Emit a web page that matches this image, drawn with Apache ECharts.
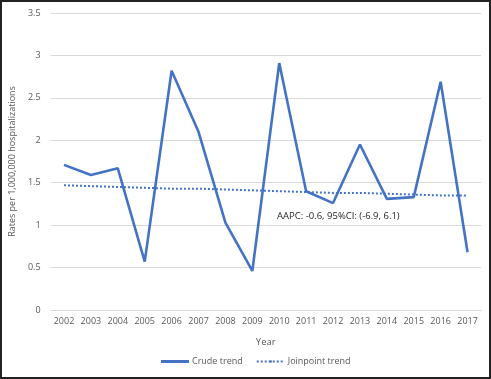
<!DOCTYPE html>
<html>
<head>
<meta charset="utf-8">
<script src="https://cdn.jsdelivr.net/npm/echarts@6/dist/echarts.min.js"></script>
<style>
  html, body { margin: 0; padding: 0; background: #fff; }
  #frame {
    width: 491px; height: 379px; box-sizing: border-box;
    border: 2px solid #222; position: relative; overflow: hidden;
  }
  #chart { position: absolute; left: -2px; top: -2px; width: 491px; height: 379px; }
</style>
</head>
<body>
<div id="frame"><div id="chart"></div></div>
<script>
const years = ['2002', '2003', '2004', '2005', '2006', '2007', '2008', '2009',
               '2010', '2011', '2012', '2013', '2014', '2015', '2016', '2017']
const crudeTrend = [1.71, 1.59, 1.67, 0.57, 2.82, 2.10, 1.03, 0.46,
                    2.91, 1.40, 1.26, 1.95, 1.31, 1.33, 2.69, 0.68]
const joinpointTrend = [1.47, 1.46, 1.45, 1.44, 1.43, 1.43, 1.42, 1.41,
                        1.40, 1.39, 1.38, 1.38, 1.37, 1.36, 1.35, 1.35]
const aapcNote = 'AAPC: -0.6, 95%CI: (-6.9, 6.1)'

const FONT = '"Open Sans", "Liberation Sans", sans-serif'
const BLUE = '#4472c4'
const TXT  = '#595959'

const chart = echarts.init(document.getElementById('chart'), null, { renderer: 'canvas' })

chart.setOption({
  backgroundColor: '#fff',
  animation: false,
  textStyle: { fontFamily: FONT },
  grid: { top: 13, right: 10, bottom: 69, left: 43 },
  legend: {
    bottom: 8, left: 156,
    itemWidth: 28, itemHeight: 3, itemGap: 13,
    textStyle: { color: TXT, fontSize: 9, fontFamily: FONT, padding: [0, 0, 0, -2] },
    data: [
      { name: 'Crude trend', icon: 'rect' },
      { name: 'Joinpoint trend' },
    ],
  },
  xAxis: {
    type: 'category', data: years,
    name: 'Year', nameLocation: 'middle', nameGap: 27,
    nameTextStyle: { color: TXT, fontSize: 9.5, fontFamily: FONT },
    axisLine: { lineStyle: { color: '#d9d9d9' } },
    axisTick: { show: false },
    axisLabel: { color: TXT, fontSize: 9, fontFamily: FONT, margin: 7, interval: 0 },
  },
  yAxis: {
    type: 'value', min: 0, max: 3.5, interval: 0.5,
    name: 'Rates per 1,000,000 hospitalizations', nameLocation: 'middle', nameGap: 25,
    nameTextStyle: { color: TXT, fontSize: 9, fontFamily: FONT },
    axisLine: { show: false }, axisTick: { show: false },
    axisLabel: { color: TXT, fontSize: 9, fontFamily: FONT, margin: 10 },
    splitLine: { lineStyle: { color: '#d9d9d9', width: 1 } },
  },
  series: [
    {
      name: 'Crude trend', type: 'line', data: crudeTrend,
      symbol: 'none', itemStyle: { color: BLUE },
      lineStyle: { color: BLUE, width: 2.6 },
      z: 3,
    },
    {
      name: 'Joinpoint trend', type: 'line', data: joinpointTrend,
      symbol: 'none', itemStyle: { color: BLUE },
      lineStyle: { color: BLUE, width: 2, type: [2, 2] },
      z: 2,
    },
  ],
  graphic: [{
    type: 'text', left: 277, top: 211,
    style: { text: aapcNote, fill: '#262626', fontSize: 9.5, fontFamily: FONT },
  }],
})
</script>
</body>
</html>
